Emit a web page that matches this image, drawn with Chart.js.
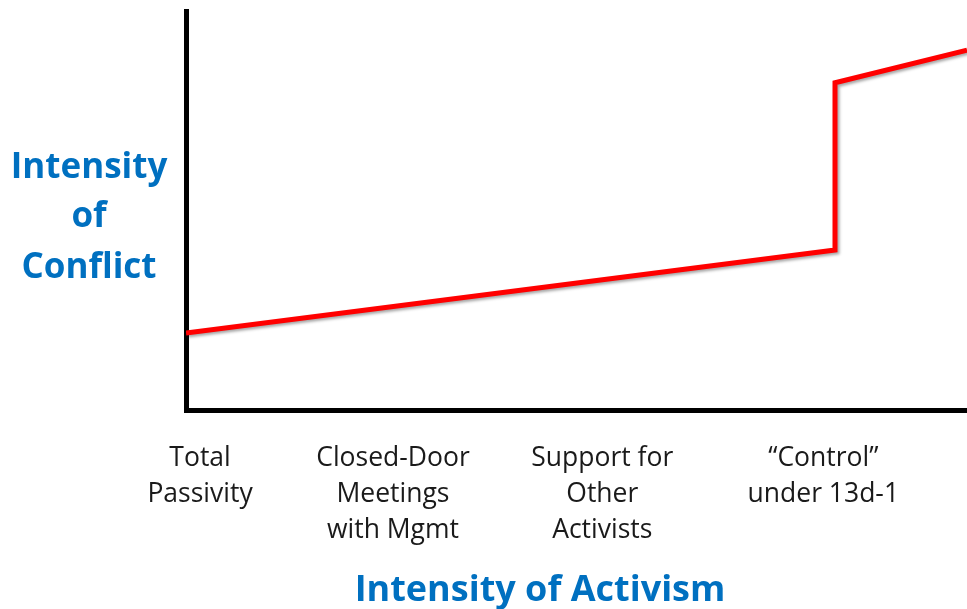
<!DOCTYPE html>
<html>
<head>
<meta charset="utf-8">
<script src="https://cdn.jsdelivr.net/npm/chart.js@4.4.1/dist/chart.umd.min.js"></script>
<style>
  html, body { margin: 0; padding: 0; background: #fff; }
  #wrap { width: 967px; height: 609px; position: relative; }
</style>
</head>
<body>
<div id="wrap"><canvas id="chart"></canvas></div>
<script>
// Activism level (x) vs conflict level (y), 0-100 on both axes
const activismLevels = [0, 83.1, 83.1, 100];
const conflictLevels = [19.3, 40.1, 82.0, 90.2];

// Category labels along the activism axis
const tickPositions = [1.8, 26.5, 53.3, 81.6];
const tickLabels = [
    ['Total', 'Passivity'],
    ['Closed-Door', 'Meetings', 'with Mgmt'],
    ['Support for', 'Other', 'Activists'],
    ['\u201CControl\u201D', 'under 13d-1']
];

const yTitle = ['Intensity', 'of', 'Conflict'];
const xTitle = 'Intensity of Activism';

const BLUE = '#0070C0';

// ─── Axis titles (horizontal y title, off-centre x title) ────────────
const titlesPlugin = {
    id: 'titles',
    afterDraw(chart) {
        const ctx = chart.ctx;
        ctx.save();
        ctx.fillStyle = BLUE;
        ctx.textAlign = 'center';
        ctx.textBaseline = 'middle';
        ctx.font = 'bold 35px "Open Sans"';
        const lineY = [168, 217, 268];
        yTitle.forEach((t, i) => ctx.fillText(t, 89, lineY[i]));
        ctx.font = 'bold 36px "Open Sans"';
        ctx.fillText(xTitle, 540, 591);
        ctx.restore();
    }
};

// soft shadow under the red line, like the slide
const shadowPlugin = {
    id: 'lineShadow',
    beforeDatasetDraw(chart) {
        const ctx = chart.ctx;
        ctx.save();
        ctx.shadowColor = 'rgba(0,0,0,0.35)';
        ctx.shadowBlur = 3;
        ctx.shadowOffsetX = 2;
        ctx.shadowOffsetY = 2;
    },
    afterDatasetDraw(chart) {
        chart.ctx.restore();
    }
};

new Chart(document.getElementById('chart'), {
    type: 'line',
    data: {
        datasets: [{
            data: activismLevels.map((x, i) => ({ x: x, y: conflictLevels[i] })),
            borderColor: '#FF0000',
            borderWidth: 5,
            pointRadius: 0,
            tension: 0,
            fill: false
        }]
    },
    options: {
        responsive: true,
        maintainAspectRatio: false,
        animation: false,
        layout: { padding: { top: 11, right: 0, left: 0, bottom: 0 } },
        plugins: {
            legend: { display: false },
            tooltip: { enabled: false }
        },
        scales: {
            x: {
                type: 'linear',
                min: 0,
                max: 100,
                grid: { display: false, drawTicks: false },
                border: { display: true, color: '#000', width: 5 },
                afterBuildTicks: s => { s.ticks = tickPositions.map(v => ({ value: v })); },
                afterFit: s => { s.height = 199; },
                ticks: {
                    autoSkip: false,
                    maxRotation: 0,
                    padding: 30,
                    color: '#1a1a1a',
                    font: { family: '"Open Sans"', size: 26.5, lineHeight: 1.36 },
                    callback: (v, i) => tickLabels[i]
                }
            },
            y: {
                min: 0,
                max: 100,
                grid: { display: false, drawTicks: false },
                border: { display: true, color: '#000', width: 5 },
                ticks: { display: false },
                afterFit: s => { s.width = 186; }
            }
        }
    },
    plugins: [shadowPlugin, titlesPlugin]
});
</script>
</body>
</html>
